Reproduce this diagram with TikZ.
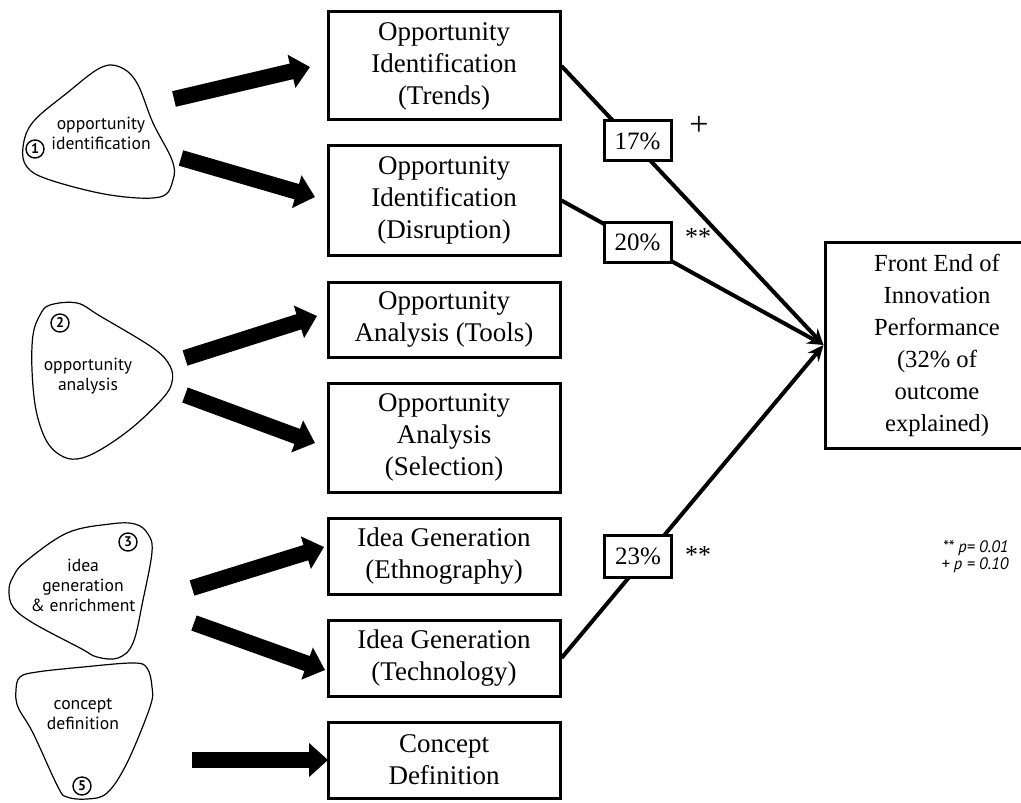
\documentclass[tikz,border=0pt]{standalone}
\usepackage{fontspec}
\setmainfont{Liberation Serif}
\newfontfamily\blobfont{PT Sans}
\usetikzlibrary{arrows.meta}
\begin{document}
\begin{tikzpicture}[x=0.5pt,y=-0.5pt,
  box/.style={draw, line width=1.5pt, fill=white, align=center, inner sep=0pt,
    minimum width=116pt, font=\fontsize{13.5}{16}\selectfont},
  pct/.style={draw, line width=1.5pt, fill=white, inner sep=0pt,
    minimum width=33.5pt, minimum height=20pt, font=\fontsize{12.5}{15}\selectfont},
  conn/.style={line width=2pt, -{Stealth[length=8pt,width=7pt]}},
  fat/.style={line width=8pt, -{Triangle[length=9.5pt,width=16.5pt]}},
  blob/.style={line width=0.6pt},
  blobtxt/.style={font=\blobfont\fontsize{8.8}{10}\selectfont, align=center, inner sep=0pt},
  num/.style={draw, circle, line width=0.7pt, minimum size=9pt, inner sep=0pt,
    font=\blobfont\bfseries\fontsize{7}{7}\selectfont},
  sig/.style={font=\fontsize{13}{15}\selectfont, inner sep=0pt}
]
\useasboundingbox (0,0) rectangle (1021,802);
\clip (0,0) rectangle (1021,802);

% blobs
\draw[blob] plot[smooth cycle, tension=0.6] coordinates {(100,68) (67,93) (33,122) (23,147) (27,167) (50,180) (110,195) (160,197) (173,180) (172,160) (153,123) (137,83) (120,67)};
\draw[blob] plot[smooth cycle, tension=0.6] coordinates {(50,305) (77,303) (100,316) (153,348) (170,366) (172,382) (163,398) (133,427) (100,450) (77,459) (60,455) (46,440) (36,410) (32,370) (33,335) (40,315)};
\draw[blob] plot[smooth cycle, tension=0.6] coordinates {(110,524) (135,524) (148,534) (152,552) (143,600) (133,643) (118,658) (97,657) (80,648) (33,623) (13,607) (9,590) (13,577) (25,562) (67,533)};
\draw[blob] plot[smooth cycle, tension=0.6] coordinates {(37,672) (83,667) (133,663) (147,668) (152,687) (150,707) (127,763) (107,793) (87,799) (67,797) (58,787) (33,733) (18,707) (16,690) (20,677)};

\node[blobtxt] (t1) at (101,133) {opportunity\\identification};
\node[blobtxt] (t2) at (88,376.5) {opportunity\\analysis};
\node[blobtxt] (t3) at (83,585) {idea\\generation\\\& enrichment};
\node[blobtxt] (t4) at (83,714) {concept\\definition};
\node[num] (n1) at (35,149) {1};
\node[num] (n2) at (60,323) {2};
\node[num] (n3) at (128,542) {3};
\node[num] (n5) at (82,786) {5};

% fat arrows
\coordinate (a1s) at (174,99);  \coordinate (a1e) at (310,67);
\coordinate (a2s) at (181,158); \coordinate (a2e) at (315,197);
\coordinate (a3s) at (185,358); \coordinate (a3e) at (317,316);
\coordinate (a4s) at (185,395); \coordinate (a4e) at (315,443);
\coordinate (a5s) at (192,588); \coordinate (a5e) at (324,547);
\coordinate (a6s) at (194,623); \coordinate (a6e) at (325,670);
\coordinate (a7s) at (192,760); \coordinate (a7e) at (328,760);
\foreach \i in {1,...,7} {\draw[fat] (a\i s) -- (a\i e);}

% boxes
\node[box, minimum height=54pt] (b1) at (444,66) {Opportunity\\Identification\\(Trends)};
\node[box, minimum height=54.5pt] (b2) at (444,200.5) {Opportunity\\Identification\\(Disruption)};
\node[box, minimum height=37.5pt] (b3) at (444,319.5) {Opportunity\\Analysis (Tools)};
\node[box, minimum height=54.5pt] (b4) at (444,437.5) {Opportunity\\Analysis\\(Selection)};
\node[box, minimum height=38pt] (b5) at (444,556) {Idea Generation\\(Ethnography)};
\node[box, minimum height=38pt] (b6) at (444,658) {Idea Generation\\(Technology)};
\node[box, minimum height=38pt] (b7) at (444,760) {Concept\\Definition};
\node[box, minimum width=112pt, minimum height=103pt, font=\fontsize{12.3}{16}\selectfont] (fe) at (937,345)
  {Front End of\\Innovation\\Performance\\(32\% of\\outcome\\explained)};

% connectors
\draw[conn] (b1.east) -- (fe.west);
\draw[conn] (b2.east) -- (fe.west);
\draw[conn] (b6.east) -- (fe.west);

\node[pct] (p1) at (637.5,141) {17\%};
\node[pct] (p2) at (637.5,242) {20\%};
\node[pct, minimum height=21pt] (p3) at (638,556) {23\%};

\node[sig, font=\fontsize{17}{17}\selectfont] (s1) at (699,126) {+};
\node[sig] (s2) at (698,237) {**};
\node[sig] (s3) at (698,555) {**};

\node[font=\blobfont\itshape\fontsize{8.3}{7}\selectfont, align=right, inner sep=0pt, anchor=east]
  (pv) at (1009,557) {** p= 0.01\\+ p = 0.10};
\end{tikzpicture}
\end{document}
